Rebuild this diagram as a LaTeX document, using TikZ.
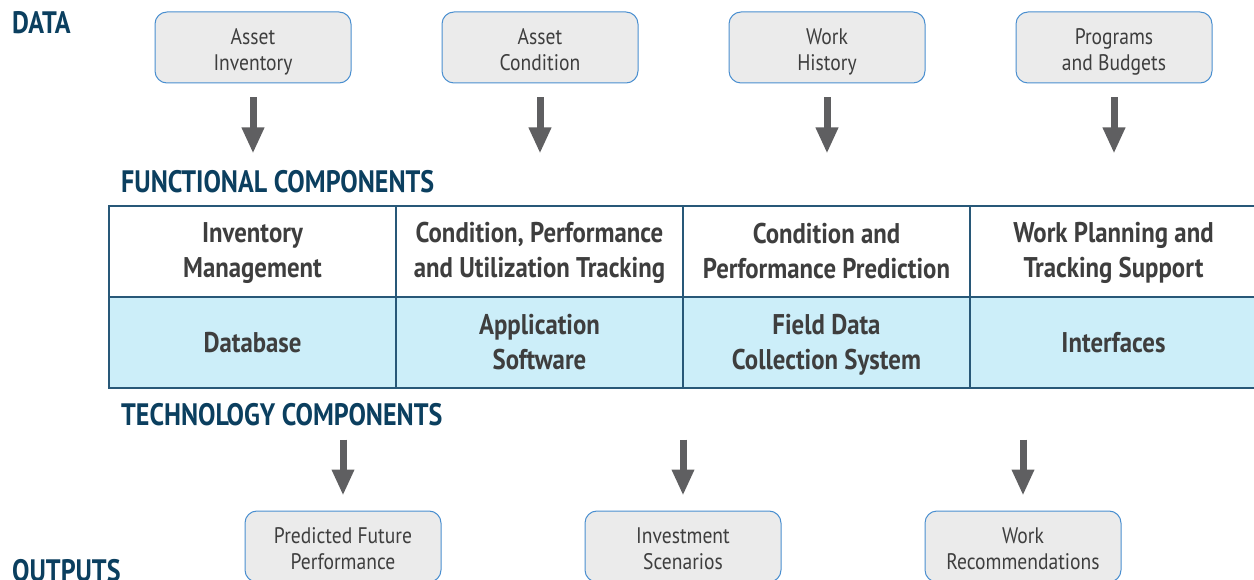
\documentclass[tikz,border=0pt]{standalone}
\usepackage{fontspec}
\setmainfont[FakeStretch=0.87]{PT Sans}
\newfontfamily\headfont[FakeStretch=0.84]{PT Sans}
\usetikzlibrary{arrows.meta}
\definecolor{headblue}{HTML}{0B3F5F}
\definecolor{txtgray}{HTML}{3E3E3E}
\definecolor{boxfill}{HTML}{EBEBEB}
\definecolor{boxline}{HTML}{4A8FD0}
\definecolor{cellblue}{HTML}{CCEEF9}
\definecolor{tabline}{HTML}{285878}
\definecolor{arrgray}{HTML}{5F5F61}
\newcommand{\boxtext}[2]{\raisebox{-#1}[\height][\depth]{\begin{tabular}{@{}c@{}}#2\end{tabular}}}
\tikzset{
  heading/.style={anchor=base west, font=\headfont\bfseries\fontsize{31}{32}\selectfont, text=headblue, inner sep=0pt},
  databox/.style={draw=boxline, line width=1pt, fill=boxfill, rounded corners=12pt,
    minimum width=196pt, minimum height=71pt, align=center, text=txtgray,
    font=\fontsize{22.5}{26}\selectfont, inner sep=0pt},
  cell/.style={draw=tabline, line width=1.3pt, minimum width=287pt, minimum height=91pt,
    align=center, text=txtgray, font=\bfseries\fontsize{28.5}{35}\selectfont, inner sep=0pt},
  topcell/.style={cell, fill=white},
  botcell/.style={cell, fill=cellblue},
  bigarrow/.style={draw=arrgray, line width=7pt, -{Triangle[length=26pt,width=21pt]}, arrgray}
}
\begin{document}
\begin{tikzpicture}[x=1pt,y=-1pt]
\useasboundingbox (0,0) rectangle (1254,580);
\clip (0,0) rectangle (1254,580);
% headings
\node[heading] (hdata) at (12,34) {DATA};
\node[heading] (hfunc) at (121,193) {FUNCTIONAL COMPONENTS};
\node[heading] (htech) at (121,425) {TECHNOLOGY COMPONENTS};
\node[heading] (hout) at (12,581) {OUTPUTS};
% data boxes
\node[databox] (d1) at (253,47.5) {\boxtext{5pt}{Asset\\Inventory}};
\node[databox] (d2) at (540,47.5) {\boxtext{5pt}{Asset\\Condition}};
\node[databox] (d3) at (827,47.5) {\boxtext{5pt}{Work\\History}};
\node[databox] (d4) at (1114,47.5) {\boxtext{5pt}{Programs\\and Budgets}};
% table
\node[topcell] (f1) at (252.5,251.5) {\boxtext{2pt}{Inventory\\Management}};
\node[topcell] (f2) at (539.5,251.5) {\boxtext{2pt}{Condition, Performance\\and Utilization Tracking}};
\node[topcell] (f3) at (826.5,251.5) {\boxtext{2.5pt}{Condition and\\Performance Prediction}};
\node[topcell] (f4) at (1113.5,251.5) {\boxtext{2pt}{Work Planning and\\Tracking Support}};
\node[botcell] (t1) at (252.5,342.5) {Database};
\node[botcell] (t2) at (539.5,342.5) {Application\\Software};
\node[botcell] (t3) at (826.5,342.5) {\boxtext{2pt}{Field Data\\Collection System}};
\node[botcell] (t4) at (1113.5,342.5) {Interfaces};
% output boxes
\node[databox] (o1) at (343,546.5) {\boxtext{5pt}{Predicted Future\\Performance}};
\node[databox] (o2) at (683,546.5) {\boxtext{5pt}{Investment\\Scenarios}};
\node[databox] (o3) at (1023,546.5) {\boxtext{5pt}{Work\\Recommendations}};
% arrows data -> functional
\foreach \n in {d1,d2,d3,d4}{
  \draw[bigarrow] ([yshift=-14pt]\n.south) -- ([yshift=-70pt]\n.south);
}
% arrows technology -> outputs
\foreach \n in {o1,o2,o3}{
  \draw[bigarrow] ([yshift=71pt]\n.north) -- ([yshift=15pt]\n.north);
}
\end{tikzpicture}
\end{document}
